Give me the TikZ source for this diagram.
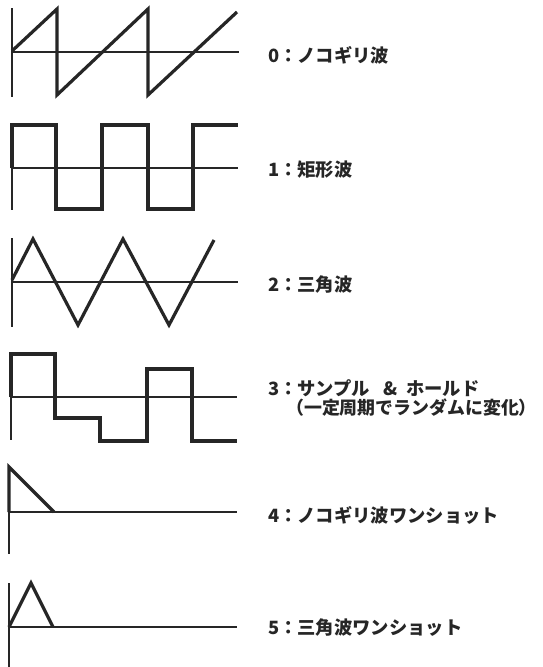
\documentclass[tikz,border=0pt]{standalone}
\usepackage{fontspec}
\newfontfamily\jp{Noto Sans CJK JP}
\definecolor{ink}{RGB}{38,38,38}
\tikzset{
  axisline/.style={draw=ink, line width=2.0pt},
  wave/.style={draw=ink, line width=3.2pt, line join=miter},
  lbl/.style={anchor=west, inner sep=0pt, text=ink, font=\jp\bfseries\fontsize{18.3}{20}\selectfont}
}
\begin{document}
\begin{tikzpicture}[x=1pt,y=-1pt]
\useasboundingbox[fill=white] (0,0) rectangle (543,667);
% 0: sawtooth
\draw[axisline] (12,8) -- (12,97);
\draw[axisline] (12,52) -- (239,52);
\draw[wave] (12,51) -- (57,9) -- (57,95) -- (148,9) -- (148,95) -- (237,12);
\node[lbl] (l0) at (268,55) {0：ノコギリ波};
% 1: square
\draw[axisline] (12,123) -- (12,210);
\draw[axisline] (12,168) -- (238,168);
\draw[wave] (12,168) -- (12,125) -- (56,125) -- (56,209) -- (102,209) -- (102,125) -- (148,125) -- (148,209) -- (193,209) -- (193,125) -- (238,125);
\node[lbl] (l1) at (268,170) {1：矩形波};
% 2: triangle
\draw[axisline] (12,238) -- (12,327);
\draw[axisline] (12,282) -- (238,282);
\draw[wave] (12,280) -- (33,239) -- (78,325) -- (123,239) -- (169,325) -- (214,240);
\node[lbl] (l2) at (268,285) {2：三角波};
% 3: sample & hold
\draw[axisline] (11,352) -- (11,440);
\draw[axisline] (11,397) -- (237,397);
\draw[wave] (11,397) -- (11,354) -- (55,354) -- (55,418) -- (100,418) -- (100,441) -- (147,441) -- (147,369) -- (192,369) -- (192,441) -- (237,441);
\node[lbl] (l3) at (268,388) {3：サンプル\hspace{0.7em}\&\hspace{0.5em}ホールド};
\node[lbl, font=\jp\bfseries\fontsize{17.9}{20}\selectfont] (l3b) at (286,408) {（一定周期でランダムに変化）};
% 4: sawtooth one-shot
\draw[axisline] (9,467) -- (9,554);
\draw[axisline] (9,512) -- (237,512);
\draw[wave] (9,512) -- (9,467) -- (54,512);
\node[lbl] (l4) at (268,515) {4：ノコギリ波ワンショット};
% 5: triangle one-shot
\draw[axisline] (9,583) -- (9,667);
\draw[axisline] (9,627) -- (237,627);
\draw[wave] (9,627) -- (31,583) -- (53,627);
\node[lbl] (l5) at (268,628) {5：三角波ワンショット};
\end{tikzpicture}
\end{document}
